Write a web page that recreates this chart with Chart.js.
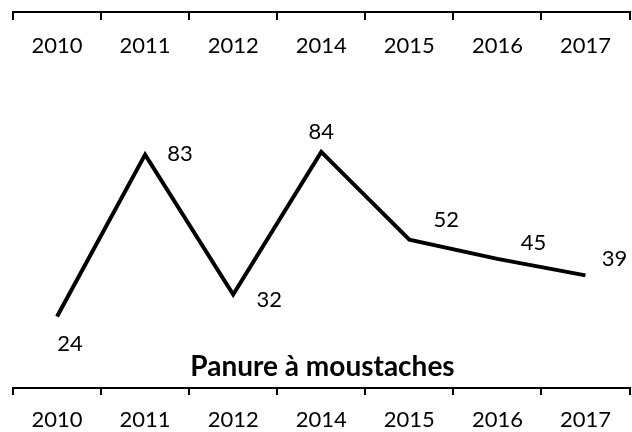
<!DOCTYPE html>
<html>
<head>
<meta charset="utf-8">
<title>Panure à moustaches</title>
<script src="https://cdn.jsdelivr.net/npm/chart.js@4.4.1/dist/chart.umd.min.js"></script>
<style>
  body { margin: 0; background: #fff; }
  #chart { display: block; }
</style>
</head>
<body>
<canvas id="chart" width="632" height="432"></canvas>
<script>
// data
const years = ['2010', '2011', '2012', '2014', '2015', '2016', '2017'];
const values = [24, 83, 32, 84, 52, 45, 39];
const chartTitle = 'Panure à moustaches';

// where each value label sits relative to its point (px)
const labelOffsets = [[13, 26.5], [35, -1.5], [36, 4], [0, -21], [37, -21], [36, -17], [29, -17]];

Chart.defaults.font.family = 'Lato';
Chart.defaults.color = '#000';

const valueLabels = {
    id: 'valueLabels',
    afterDatasetsDraw(chart) {
        const ctx = chart.ctx;
        const meta = chart.getDatasetMeta(0);
        ctx.save();
        ctx.font = '22px Lato';
        ctx.fillStyle = '#000';
        ctx.textAlign = 'center';
        ctx.textBaseline = 'middle';
        meta.data.forEach((pt, i) => {
            const [dx, dy] = labelOffsets[i];
            ctx.fillText(String(values[i]), pt.x + dx, pt.y + dy + 1);
        });
        ctx.restore();
    }
};

const axisStyle = (tickLength, padding) => ({
    type: 'category',
    offset: true,
    grid: { offset: true, drawOnChartArea: false, color: '#000', lineWidth: 2, tickLength: tickLength },
    border: { display: true, color: '#000', width: 2 },
    ticks: { color: '#000', font: { size: 22 }, padding: padding, maxRotation: 0, autoSkip: false }
});

const topAxis = axisStyle(-8, 21);
topAxis.position = 'top';
topAxis.labels = years;
topAxis.ticks.mirror = true;
topAxis.afterFit = s => { s.height = 0; };

const bottomAxis = axisStyle(7, 12);
bottomAxis.position = 'bottom';
bottomAxis.labels = years;
bottomAxis.afterFit = s => { s.height = 44; };

new Chart(document.getElementById('chart'), {
    type: 'line',
    data: {
        labels: years,
        datasets: [{
            data: values,
            borderColor: '#000',
            borderWidth: 4,
            pointRadius: 0,
            tension: 0,
            fill: false,
            xAxisID: 'x'
        }]
    },
    options: {
        responsive: false,
        animation: false,
        layout: { padding: { top: 12, left: 13, right: 0, bottom: 0 } },
        plugins: {
            legend: { display: false },
            tooltip: { enabled: false },
            title: {
                display: true,
                text: chartTitle,
                position: 'bottom',
                weight: -1,
                color: '#000',
                font: { size: 28, weight: 'bold' },
                padding: { top: 9, bottom: 4.2 }
            }
        },
        scales: {
            x: bottomAxis,
            x2: topAxis,
            y: { display: false, min: 15, max: 135 }
        }
    },
    plugins: [valueLabels]
});
</script>
</body>
</html>
